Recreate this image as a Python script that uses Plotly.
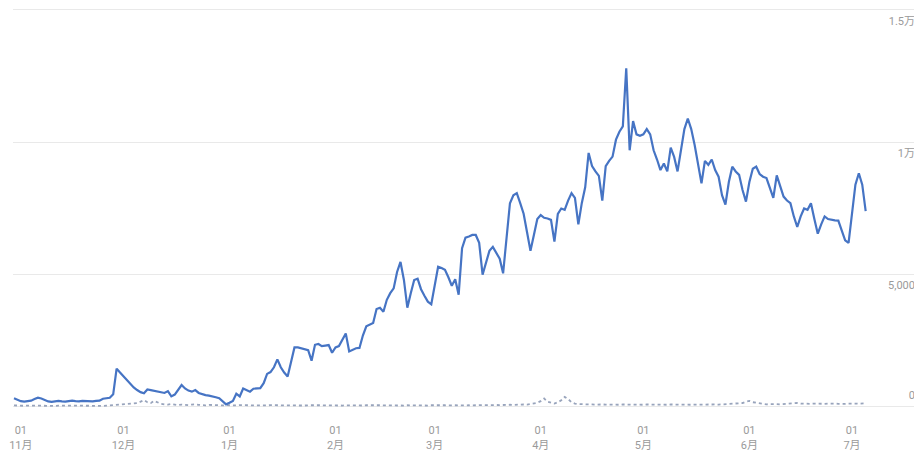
import datetime as dt
import plotly.graph_objects as go

start_date = "2019-10-30"

main_values = [
    330, 260, 220, 200, 210, 240, 300, 350, 320, 250,
    210, 190, 200, 230, 210, 200, 220, 240, 220, 210,
    230, 220, 200, 210, 230, 240, 310, 340, 350, 480,
    1450, 1300, 1150, 1000, 880, 740, 640, 560, 520, 660,
    640, 610, 590, 570, 530, 600, 400, 470, 650, 830,
    700, 620, 580, 640, 530, 480, 450, 430, 410, 370,
    330, 200, 100, 160, 230, 500, 400, 700, 650, 580,
    690, 700, 710, 900, 1250, 1320, 1500, 1800, 1500, 1300,
    1150, 1700, 2250, 2250, 2220, 2200, 2150, 1750, 2350, 2380,
    2300, 2320, 2340, 2050, 2250, 2300, 2550, 2780, 2100, 2150,
    2220, 2230, 2700, 3050, 3100, 3170, 3700, 3750, 3600, 4050,
    4300, 4480, 5100, 5480, 4800, 3750, 4300, 4800, 4850, 4450,
    4200, 3980, 3880, 4600, 5300, 5250, 5180, 4900, 4580, 4830,
    4240, 6000, 6400, 6440, 6500, 6500, 6200, 5000, 5500, 5900,
    6050, 5850, 5600, 5050, 6300, 7700, 8000, 8080, 7700, 7300,
    6600, 5900, 6500, 7100, 7250, 7150, 7120, 7070, 6250, 7300,
    7500, 7450, 7800, 8080, 7900, 6900, 7700, 8300, 9600, 9100,
    8900, 8730, 7800, 9100, 9300, 9460, 10100, 10400, 10600, 12800,
    9700, 10800, 10300, 10250, 10300, 10500, 10300, 9700, 9350, 8950,
    9200, 8900, 9800, 9450, 8900, 9700, 10500, 10900, 10500, 9900,
    9100, 8450, 9300, 9150, 9350, 8950, 8700, 8000, 7650, 8500,
    9080, 8900, 8770, 8200, 7760, 8500, 9000, 9080, 8800, 8700,
    8650, 8300, 7900, 8750, 8300, 7950, 7800, 7700, 7200, 6800,
    7200, 7500, 7450, 7700, 7100, 6550, 6900, 7200, 7100, 7070,
    7050, 7040, 6700, 6300, 6200, 7200, 8400, 8830, 8400, 7400,
]

compare_values = [
    60, 50, 40, 45, 55, 50, 45, 40, 50, 55,
    50, 45, 40, 50, 55, 45, 40, 50, 55, 50,
    45, 40, 50, 55, 50, 45, 40, 50, 60, 70,
    80, 90, 100, 110, 120, 130, 150, 200, 260, 180,
    150, 230, 170, 120, 100, 90, 110, 80, 70, 90,
    80, 70, 90, 100, 80, 70, 60, 80, 70, 60,
    50, 60, 70, 60, 50, 60, 70, 60, 55, 65,
    60, 55, 70, 65, 60, 70, 60, 55, 65, 60,
    55, 60, 70, 65, 60, 55, 65, 70, 60, 55,
    65, 60, 55, 70, 65, 60, 55, 65, 60, 70,
    65, 60, 55, 65, 70, 60, 55, 65, 60, 55,
    60, 70, 65, 60, 55, 65, 60, 55, 70, 65,
    60, 55, 65, 70, 60, 55, 65, 60, 70, 65,
    60, 70, 75, 65, 60, 70, 80, 75, 70, 80,
    85, 75, 70, 80, 90, 85, 80, 90, 100, 95,
    90, 110, 130, 160, 220, 320, 200, 150, 130, 180,
    250, 380, 300, 180, 130, 110, 100, 90, 100, 95,
    90, 100, 95, 90, 85, 95, 90, 85, 95, 90,
    85, 90, 95, 90, 85, 95, 90, 85, 90, 95,
    90, 85, 95, 90, 85, 90, 95, 90, 85, 90,
    95, 90, 85, 90, 100, 95, 90, 100, 110, 120,
    110, 120, 130, 150, 200, 230, 180, 160, 150, 120,
    100, 110, 120, 110, 100, 110, 120, 130, 140, 150,
    130, 120, 110, 120, 130, 120, 110, 120, 130, 140,
    130, 120, 110, 120, 130, 140, 130, 120, 130, 140,
]

tick_dates = ["2019-11-01", "2019-12-01", "2020-01-01", "2020-02-01", "2020-03-01",
              "2020-04-01", "2020-05-01", "2020-06-01", "2020-07-01"]
tick_labels = ["01<br>11月", "01<br>12月", "01<br>1月", "01<br>2月", "01<br>3月",
               "01<br>4月", "01<br>5月", "01<br>6月", "01<br>7月"]

y_tick_vals = [5000, 10000, 15000]
y_tick_labels = ["5,000", "1万", "1.5万"]
y_zero_vals = [0]
y_zero_labels = ["0"]

d0 = dt.datetime.fromisoformat(start_date)
dates = [d0 + dt.timedelta(days=i) for i in range(len(main_values))]

x_range = [d0 - dt.timedelta(hours=7), d0 + dt.timedelta(days=264.3)]
y_range = [-265, 15075]

fig = go.Figure()
fig.add_trace(go.Scatter(
    x=dates, y=compare_values, mode="lines",
    line=dict(color="#98a4bc", width=1.8, dash="dot"),
    hoverinfo="skip", showlegend=False,
))
fig.add_trace(go.Scatter(
    x=dates, y=main_values, mode="lines",
    line=dict(color="#4674c4", width=2.2),
    showlegend=False,
))

label_font = dict(family="Roboto, 'Noto Sans CJK JP', sans-serif", size=11, color="#9a9a9a")

# page body has an 8px default margin, so the figure is sized to fit the 922x452 window
fig.update_layout(
    width=914, height=444,
    margin=dict(l=5, r=4, t=0, b=38, autoexpand=False),
    paper_bgcolor="white", plot_bgcolor="white",
    xaxis=dict(
        range=x_range, type="date", automargin=False,
        tickvals=tick_dates, ticktext=tick_labels,
        showgrid=False, zeroline=False, showline=False,
        ticks="outside", ticklen=6, tickcolor="rgba(0,0,0,0)",
        tickfont=label_font,
    ),
    yaxis=dict(
        range=y_range, side="right", automargin=False,
        tickvals=y_tick_vals, ticktext=y_tick_labels,
        ticklabelposition="inside bottom", ticklabelstandoff=0, ticklabelshift=3,
        showgrid=True, gridcolor="#e9e9e9", gridwidth=1,
        zeroline=False, showline=False, ticks="", ticklen=0,
        tickfont=label_font,
    ),
    yaxis2=dict(
        range=y_range, side="right", overlaying="y", automargin=False,
        tickvals=y_zero_vals, ticktext=y_zero_labels,
        ticklabelposition="inside top", ticklabelstandoff=0, ticklabelshift=-4,
        showgrid=True, gridcolor="#e9e9e9", gridwidth=1,
        zeroline=False, showline=False, ticks="", ticklen=0,
        tickfont=label_font,
    ),
)
fig.add_trace(go.Scatter(x=[dates[0]], y=[0], yaxis="y2", mode="markers",
                         marker=dict(opacity=0), hoverinfo="skip", showlegend=False))

fig.write_html("out.html")
